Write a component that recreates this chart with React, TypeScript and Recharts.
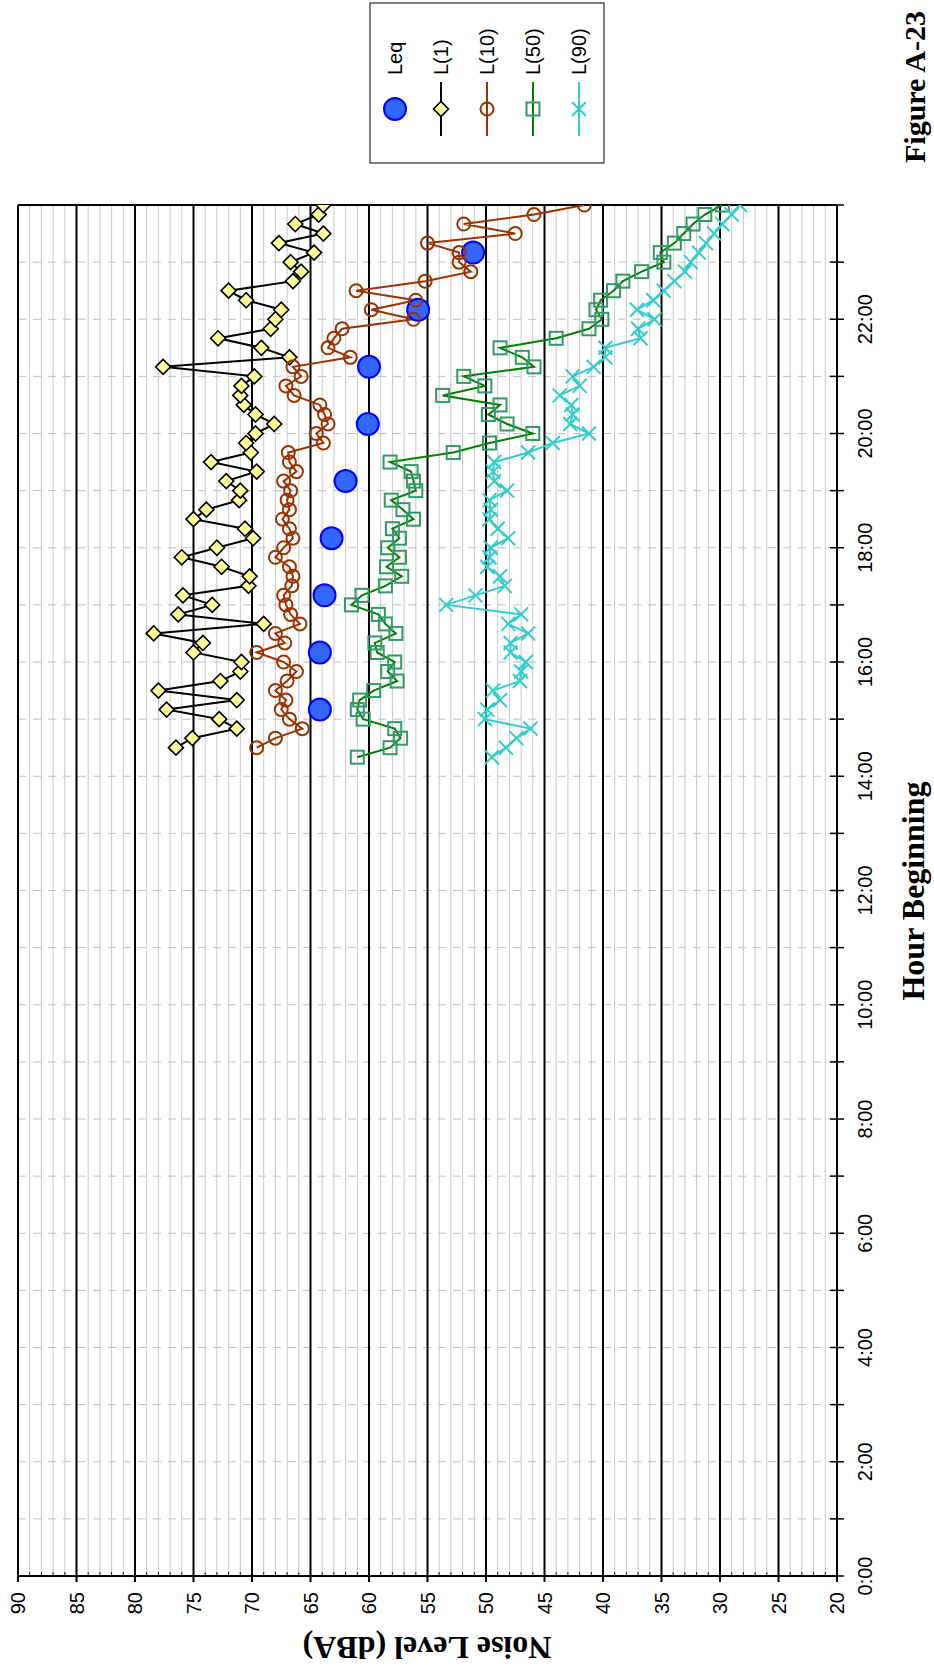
import { ComposedChart, Line, XAxis, YAxis, CartesianGrid } from "recharts";

// Sample times in minutes after midnight (10-minute intervals, 14:20 - 24:00)
const TIMES = [
  860, 870, 880, 890, 900, 910, 920, 930, 940, 950, 960, 970, 980, 990, 1000, 1010, 1020, 1030, 1040, 1050,
  1060, 1070, 1080, 1090, 1100, 1110, 1120, 1130, 1140, 1150, 1160, 1170, 1180, 1190, 1200, 1210, 1220, 1230,
  1240, 1250, 1260, 1270, 1280, 1290, 1300, 1310, 1320, 1330, 1340, 1350, 1360, 1370, 1380, 1390, 1400, 1410,
  1420, 1430, 1440,
];

const L1 = [
  null, 76.5, 75.1, 71.3, 72.8, 77.3, 71.3, 78.0, 72.7, 71.0, 70.9, 75.0, 74.2, 78.4, 69.0, 76.3, 73.4, 75.9,
  70.3, 70.2, 72.6, 76.0, 73.0, 69.9, 70.6, 75.0, 73.9, 71.1, 71.0, 72.2, 69.6, 73.5, 70.1, 70.5, 69.7, 68.1,
  69.7, 70.7, 71.0, 70.9, 69.8, 77.6, 66.8, 69.2, 72.9, 68.4, 68.0, 67.5, 70.5, 72.0, 66.5, 65.8, 66.7, 64.7,
  67.7, 63.9, 66.3, 64.3, 63.9,
];

const L10 = [
  null, 69.6, 68.0, 65.7, 66.8, 67.5, 67.1, 68.0, 67.0, 66.2, 67.3, 69.6, 67.2, 68.0, 65.9, 66.7, 67.1, 67.3,
  66.6, 66.5, 66.8, 68.0, 67.3, 66.5, 66.8, 67.4, 66.8, 67.0, 66.7, 67.3, 66.2, 66.8, 66.9, 63.9, 64.5, 63.5,
  63.8, 64.2, 66.4, 67.1, 65.8, 66.5, 61.6, 63.5, 63.0, 62.3, 56.2, 59.8, 56.0, 61.1, 55.2, 51.3, 52.3, 52.3,
  55.0, 47.5, 51.9, 45.9, 41.6,
];

const L50 = [
  61.0, 58.2, 57.3, 57.8, 60.5, 61.0, 60.8, 59.6, 57.6, 58.4, 57.8, 59.3, 59.5, 57.7, 58.6, 59.2, 61.5, 60.6,
  58.6, 57.2, 58.5, 57.4, 58.4, 57.4, 58.0, 56.2, 57.1, 58.1, 56.0, 56.2, 56.4, 58.2, 52.8, 49.7, 46.0, 48.2,
  49.8, 48.8, 53.7, 50.1, 51.9, 45.9, 46.9, 48.8, 44.0, 41.2, 40.1, 40.6, 40.2, 39.1, 38.3, 36.7, 34.8, 35.1,
  33.9, 33.1, 32.3, 31.3, 29.8,
];

const L90 = [
  49.5, 48.3, 47.4, 46.2, 50.1, 49.9, 48.8, 49.4, 47.1, 47.0, 46.6, 47.9, 47.9, 46.4, 48.1, 47.0, 53.4, 50.9,
  48.4, 48.8, 49.9, 49.7, 49.6, 48.1, 49.0, 49.7, 49.6, 49.7, 48.2, 49.3, 49.4, 49.3, 46.4, 44.3, 41.2, 42.8,
  42.6, 42.7, 43.7, 42.0, 42.6, 40.8, 39.8, 39.8, 36.8, 37.0, 35.6, 37.1, 35.7, 34.8, 33.9, 33.0, 32.5, 31.8,
  31.2, 30.5, 29.8, 29.0, 28.3,
];

// hourly Leq
const LEQ_TIMES = [910, 970, 1030, 1090, 1150, 1210, 1270, 1330, 1390];
const LEQ = [64.2, 64.2, 63.8, 63.2, 62.0, 60.1, 60.0, 55.8, 51.1];

const NOISE_LABELS = [20, 25, 30, 35, 40, 45, 50, 55, 60, 65, 70, 75, 80, 85, 90];
const HOUR_LABELS = ["0:00", "2:00", "4:00", "6:00", "8:00", "10:00", "12:00", "14:00", "16:00", "18:00", "20:00", "22:00"];

const NOISE_TICKS = Array.from({ length: 71 }, (_, i) => 20 + i);
const NOISE_MINOR = NOISE_TICKS.filter((v) => v % 5 !== 0);
const HOUR_TICKS = Array.from({ length: 25 }, (_, i) => i * 60);
const HOUR_GRID = HOUR_TICKS.slice(1, 24);

const ROWS = TIMES.map((t, i) => ({ t, l1: L1[i], l10: L10[i], l50: L50[i], l90: L90[i] }));
const LEQ_ROWS = LEQ_TIMES.map((t, i) => ({ t, leq: LEQ[i] }));

const SANS = '"Liberation Sans", Arial, sans-serif';
const SERIF = '"Liberation Serif", "Times New Roman", serif';

const W = 1669;
const H = 934;

// marker shapes
const drawLeq = (cx: number, cy: number) => <circle cx={cx} cy={cy} r={11} fill="#3366ff" stroke="#0000ff" strokeWidth={2} />;
const drawDiamond = (cx: number, cy: number) => (
  <path d={`M${cx},${cy - 7.5}L${cx + 7.5},${cy}L${cx},${cy + 7.5}L${cx - 7.5},${cy}Z`} fill="#ffff99" stroke="#000" strokeWidth={1.6} />
);
const drawCircle = (cx: number, cy: number) => <circle cx={cx} cy={cy} r={6.5} fill="none" stroke="#993300" strokeWidth={2} />;
const drawSquare = (cx: number, cy: number) => (
  <rect x={cx - 6.5} y={cy - 6.5} width={13} height={13} fill="none" stroke="#339966" strokeWidth={2} />
);
const drawCross = (cx: number, cy: number) => (
  <path d={`M${cx - 7},${cy - 7}L${cx + 7},${cy + 7}M${cx - 7},${cy + 7}L${cx + 7},${cy - 7}`} stroke="#33cccc" strokeWidth={2} />
);

const makeDot = (draw: (cx: number, cy: number) => JSX.Element) => (p: any) => {
  const { cx, cy, index } = p;
  if (typeof cx !== "number" || typeof cy !== "number" || !isFinite(cy)) return <g key={`n${index}`} />;
  return <g key={`d${index}`}>{draw(cx, cy)}</g>;
};

function NoiseTick(props: any) {
  const { x, y, payload } = props;
  const v = payload.value;
  const major = v % 5 === 0;
  return (
    <g>
      {major ? (
        <line x1={x - 6} x2={x} y1={y} y2={y} stroke="#000" strokeWidth={2} />
      ) : (
        <line x1={x} x2={x + 4} y1={y} y2={y} stroke="#222" strokeWidth={1} />
      )}
      {major && (
        <text x={x - 16} y={y} textAnchor="end" dominantBaseline="central" fontSize={20} fontFamily={SANS} fill="#000">
          {v}
        </text>
      )}
    </g>
  );
}

function HourTick(props: any) {
  const { x, y, payload } = props;
  const v = payload.value;
  const label = v % 120 === 0 && v < 1440 ? HOUR_LABELS[v / 120] : null;
  return (
    <g>
      <line x1={x} x2={x} y1={y - 7} y2={y + 7} stroke="#000" strokeWidth={1.5} />
      {label && (
        <text x={x} y={y + 35} textAnchor="middle" fontSize={20} fontFamily={SANS} fill="#000">
          {label}
        </text>
      )}
    </g>
  );
}

const LEGEND = [
  { name: "Leq", draw: drawLeq, line: null },
  { name: "L(1)", draw: drawDiamond, line: "#000" },
  { name: "L(10)", draw: drawCircle, line: "#993300" },
  { name: "L(50)", draw: drawSquare, line: "#008000" },
  { name: "L(90)", draw: drawCross, line: "#33cccc" },
];

export default function App() {
  return (
    <div
      style={{
        position: "absolute",
        left: 0,
        top: 0,
        width: W,
        height: H,
        background: "#fff",
        overflow: "hidden",
        transformOrigin: "0 0",
        transform: `translateY(${W}px) rotate(-90deg)`,
      }}
    >
      <ComposedChart width={W} height={H} data={ROWS} margin={{ top: 18, right: 205, bottom: 0, left: 0 }}>
        <CartesianGrid horizontal vertical={false} horizontalValues={NOISE_MINOR} stroke="#c8c8c8" strokeWidth={1} />
        <CartesianGrid vertical horizontal={false} verticalValues={HOUR_GRID} stroke="#c0c0c0" strokeWidth={1} strokeDasharray="8 7" />
        <CartesianGrid horizontal vertical={false} horizontalValues={NOISE_LABELS} stroke="#000" strokeWidth={2} />
        <CartesianGrid vertical horizontal={false} verticalValues={[1440]} stroke="#000" strokeWidth={2} />
        <XAxis
          dataKey="t"
          type="number"
          domain={[0, 1440]}
          ticks={HOUR_TICKS}
          interval={0}
          height={97}
          tickSize={0}
          tickMargin={0}
          tickLine={false}
          tick={<HourTick />}
          axisLine={{ stroke: "#000", strokeWidth: 2 }}
          allowDataOverflow
        />
        <YAxis
          type="number"
          domain={[20, 90]}
          ticks={NOISE_TICKS}
          interval={0}
          width={93}
          tickSize={0}
          tickMargin={0}
          tickLine={false}
          tick={<NoiseTick />}
          axisLine={{ stroke: "#000", strokeWidth: 2 }}
          allowDataOverflow
        />
        <Line data={LEQ_ROWS} dataKey="leq" stroke="none" dot={makeDot(drawLeq)} activeDot={false} isAnimationActive={false} />
        <Line dataKey="l1" stroke="#000" strokeWidth={2} dot={makeDot(drawDiamond)} activeDot={false} isAnimationActive={false} />
        <Line dataKey="l10" stroke="#993300" strokeWidth={2} dot={makeDot(drawCircle)} activeDot={false} isAnimationActive={false} />
        <Line dataKey="l50" stroke="#008000" strokeWidth={2} dot={makeDot(drawSquare)} activeDot={false} isAnimationActive={false} />
        <Line dataKey="l90" stroke="#33cccc" strokeWidth={2} dot={makeDot(drawCross)} activeDot={false} isAnimationActive={false} />
      </ComposedChart>

      <svg width={W} height={H} style={{ position: "absolute", left: 0, top: 0, pointerEvents: "none" }}>
        <text
          x={32}
          y={427}
          transform="rotate(-90 32 427)"
          textAnchor="middle"
          fontFamily={SERIF}
          fontWeight="bold"
          fontSize={32}
          fill="#000"
        >
          Noise Level (dBA)
        </text>
        <text x={778} y={924} textAnchor="middle" fontFamily={SERIF} fontWeight="bold" fontSize={32} fill="#000">
          Hour Beginning
        </text>
        <text x={1506} y={925} textAnchor="start" fontFamily={SERIF} fontWeight="bold" fontSize={30} fill="#000">
          Figure A-23
        </text>

        <rect x={1506} y={370} width={160} height={234} fill="#fff" stroke="#000" strokeWidth={1} />
        {LEGEND.map((item, i) => {
          const cy = 395 + i * 46;
          return (
            <g key={item.name}>
              {item.line && <line x1={1533} x2={1587} y1={cy} y2={cy} stroke={item.line} strokeWidth={2} />}
              {item.draw(1560, cy)}
              <text x={1594} y={cy} dominantBaseline="central" fontFamily={SANS} fontSize={20} fill="#000">
                {item.name}
              </text>
            </g>
          );
        })}
      </svg>
    </div>
  );
}
